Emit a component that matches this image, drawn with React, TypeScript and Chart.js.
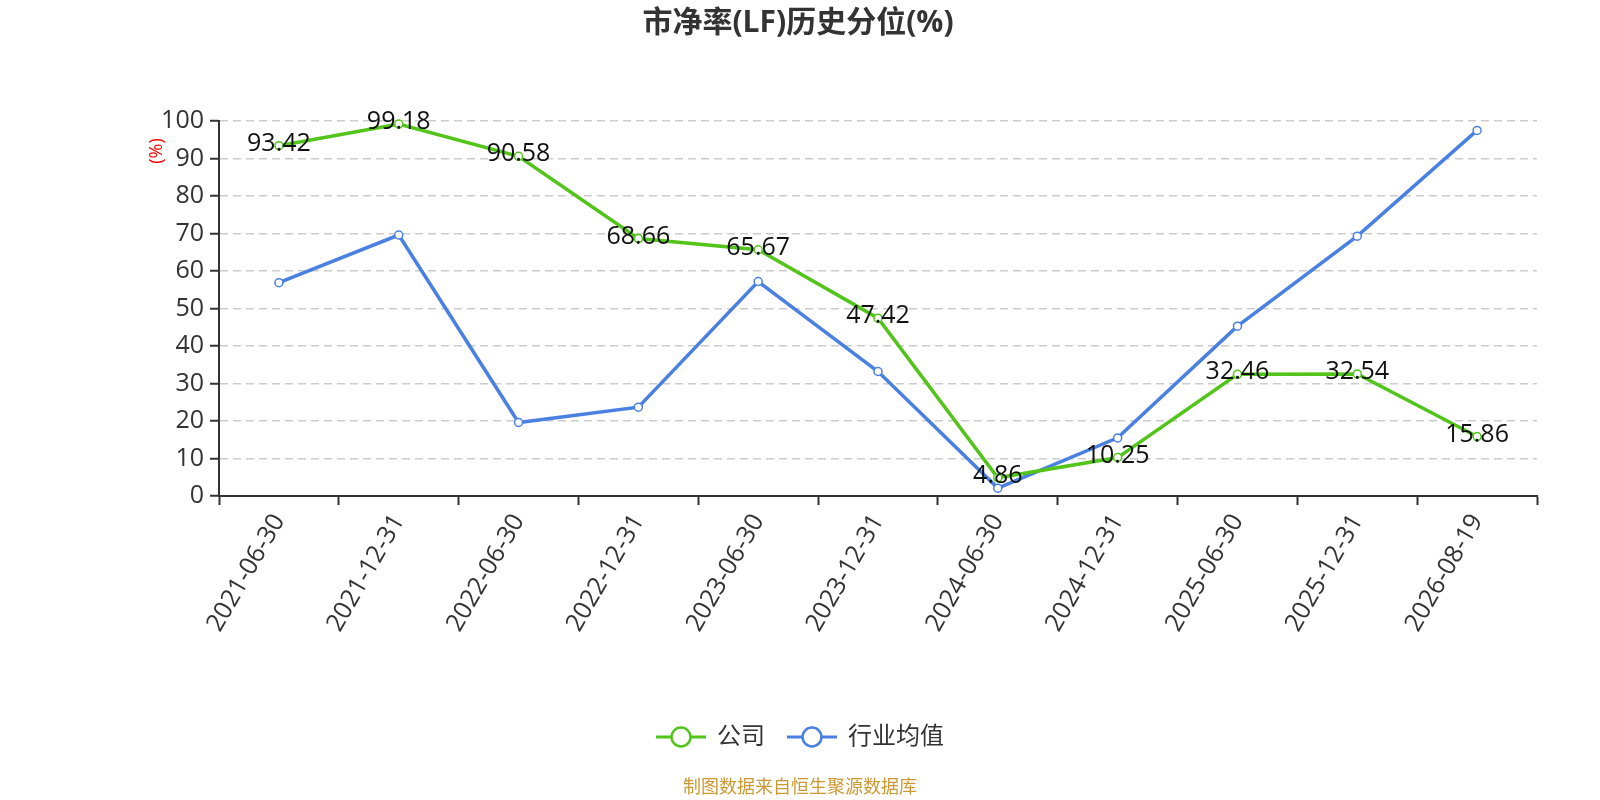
import React, { useEffect, useRef } from "react";
import Chart from "chart.js/auto";

const FONT = '"Open Sans", "Noto Sans CJK SC", sans-serif';

const dates = [
    "2021-06-30", "2021-12-31", "2022-06-30", "2022-12-31", "2023-06-30", "2023-12-31",
    "2024-06-30", "2024-12-31", "2025-06-30", "2025-12-31", "2026-08-19",
];
const companyValues = [93.42, 99.18, 90.58, 68.66, 65.67, 47.42, 4.86, 10.25, 32.46, 32.54, 15.86];
const industryValues = [56.9, 69.6, 19.6, 23.7, 57.2, 33.2, 2.1, 15.5, 45.3, 69.3, 97.5];
const yTicks = [0, 10, 20, 30, 40, 50, 60, 70, 80, 90, 100];

const seriesNames = ["公司", "行业均值"];
const seriesColors = ["#52C41A", "#4A80E1"];
const chartTitle = "市净率(LF)历史分位(%)";
const footerText = "制图数据来自恒生聚源数据库";

const decorPlugin = {
    id: "decor",
    afterDatasetsDraw(chart: any) {
        const ctx = chart.ctx;
        const meta = chart.getDatasetMeta(0);
        ctx.save();
        ctx.font = `25px ${FONT}`;
        ctx.fillStyle = "#111";
        ctx.textAlign = "center";
        ctx.textBaseline = "middle";
        meta.data.forEach((pt: any, i: number) => {
            ctx.fillText(companyValues[i].toFixed(2), pt.x, pt.y - 2);
        });
        ctx.restore();
    },
    afterDraw(chart: any) {
        const ctx = chart.ctx;
        ctx.save();

        // title
        ctx.font = `bold 30px ${FONT}`;
        ctx.fillStyle = "#333";
        ctx.textAlign = "center";
        ctx.textBaseline = "middle";
        ctx.fillText(chartTitle, 798, 23);

        // y axis name
        ctx.save();
        ctx.translate(157, 151);
        ctx.rotate(-Math.PI / 2);
        ctx.font = `18px ${FONT}`;
        ctx.fillStyle = "#FF0000";
        ctx.fillText("(%)", 0, 0);
        ctx.restore();

        // legend
        ctx.font = `24px ${FONT}`;
        const iconW = 50;
        const textGap = 11;
        const itemGap = 22;
        const widths = seriesNames.map((n) => ctx.measureText(n).width);
        const total = widths.reduce((a, w) => a + iconW + textGap + w, 0) + itemGap;
        let x = 800 - total / 2;
        const ly = 737;
        seriesNames.forEach((name, i) => {
            ctx.strokeStyle = seriesColors[i];
            ctx.lineWidth = 3;
            ctx.beginPath();
            ctx.moveTo(x, ly);
            ctx.lineTo(x + iconW, ly);
            ctx.stroke();
            ctx.beginPath();
            ctx.arc(x + iconW / 2, ly, 9.5, 0, Math.PI * 2);
            ctx.fillStyle = "#fff";
            ctx.fill();
            ctx.lineWidth = 2.5;
            ctx.stroke();
            ctx.fillStyle = "#333";
            ctx.textAlign = "left";
            ctx.fillText(name, x + iconW + textGap, ly);
            x += iconW + textGap + widths[i] + itemGap;
        });

        // footer
        ctx.font = `18px ${FONT}`;
        ctx.fillStyle = "#CC9933";
        ctx.textAlign = "center";
        ctx.fillText(footerText, 800, 788);

        ctx.restore();
    },
};

const App = () => {
    const canvasRef = useRef<HTMLCanvasElement | null>(null);

    useEffect(() => {
        document.body.style.margin = "0";
        const ctx = canvasRef.current?.getContext("2d");
        if (!ctx) return;

        const lineChart = new Chart(ctx, {
            type: "line",
            data: {
                labels: dates,
                datasets: [
                    {
                        label: seriesNames[0],
                        data: companyValues,
                        borderColor: seriesColors[0],
                        backgroundColor: "#fff",
                        borderWidth: 3.5,
                        pointRadius: 4,
                        pointBorderWidth: 1.5,
                        pointBackgroundColor: "#fff",
                        pointBorderColor: seriesColors[0],
                        tension: 0,
                        clip: false as any,
                    },
                    {
                        label: seriesNames[1],
                        data: industryValues,
                        borderColor: seriesColors[1],
                        backgroundColor: "#fff",
                        borderWidth: 3.5,
                        pointRadius: 4,
                        pointBorderWidth: 1.5,
                        pointBackgroundColor: "#fff",
                        pointBorderColor: seriesColors[1],
                        tension: 0,
                        clip: false as any,
                    },
                ],
            },
            options: {
                responsive: false,
                animation: false,
                layout: { padding: { top: 121, right: 63, bottom: 154, left: 0 } },
                plugins: {
                    legend: { display: false },
                    title: { display: false },
                    tooltip: { enabled: false },
                },
                scales: {
                    x: {
                        type: "category",
                        offset: true,
                        afterFit: (s: any) => {
                            s.height = 150;
                        },
                        grid: {
                            offset: true,
                            drawOnChartArea: false,
                            drawTicks: true,
                            tickLength: 9,
                            tickColor: "#333",
                            tickWidth: 2,
                        },
                        border: { color: "#333", width: 2 },
                        ticks: {
                            autoSkip: false,
                            minRotation: 60,
                            maxRotation: 60,
                            padding: 4,
                            color: "#333",
                            font: { size: 25, family: FONT },
                        },
                    },
                    y: {
                        min: 0,
                        max: 100,
                        afterFit: (s: any) => {
                            s.width = 219;
                        },
                        afterBuildTicks: (s: any) => {
                            s.ticks = yTicks.map((v) => ({ value: v }));
                        },
                        grid: {
                            color: "#CCCCCC",
                            lineWidth: 1.5,
                            tickLength: 9,
                            tickColor: "#333",
                            tickWidth: 2,
                            tickBorderDash: [],
                        },
                        border: { color: "#333", width: 2, dash: [8, 5] },
                        ticks: {
                            padding: 6,
                            color: "#333",
                            font: { size: 25, family: FONT },
                        },
                    },
                },
            },
            plugins: [decorPlugin],
        });

        return () => {
            lineChart.destroy();
        };
    }, []);

    return (
        <div style={{ width: 1600, height: 800 }}>
            <canvas ref={canvasRef} width={1600} height={800} />
        </div>
    );
};

export default App;
